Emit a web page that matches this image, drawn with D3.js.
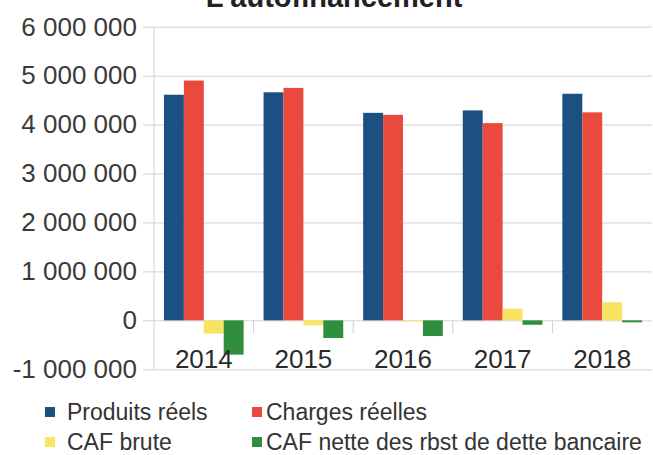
<!DOCTYPE html>
<html>
<head>
<meta charset="utf-8">
<script src="https://cdn.jsdelivr.net/npm/d3@7/dist/d3.min.js"></script>
<style>
  html, body { margin: 0; padding: 0; background: #ffffff; }
  svg { display: block; }
  text { font-family: "Liberation Sans", Arial, sans-serif; }
</style>
</head>
<body>
<svg id="chart" width="653" height="455"></svg>
<script>
// ---- data ----
const title = "L'autofinancement";
const years = ["2014", "2015", "2016", "2017", "2018"];
const seriesNames = ["Produits réels", "Charges réelles", "CAF brute", "CAF nette des rbst de dette bancaire"];
const produitsReels = [4610000, 4660000, 4240000, 4290000, 4630000];
const chargesReelles = [4900000, 4750000, 4200000, 4030000, 4250000];
const cafBrute = [-270000, -100000, -20000, 240000, 370000];
const cafNette = [-700000, -360000, -320000, -90000, -40000];
const yTicks = [-1000000, 0, 1000000, 2000000, 3000000, 4000000, 5000000, 6000000];

// ---- styles ----
const colors = ["#1c4f82", "#ea4a3e", "#f7e463", "#2f8f3d"];
const allSeries = [produitsReels, chargesReelles, cafBrute, cafNette];

const svg = d3.select("#chart");
const W = 653, H = 455;
const plot = { left: 154, right: 652, top: 26.7, bottom: 369.3 };

const y = d3.scaleLinear().domain([-1000000, 6000000]).range([plot.bottom, plot.top]);
const x0 = d3.scaleBand().domain(years).range([plot.left, plot.right]).padding(0);
const x1 = d3.scaleBand().domain(d3.range(seriesNames.length))
  .range([0, x0.bandwidth()]).paddingInner(0).paddingOuter(0.5);

const loc = d3.formatLocale({ decimal: ",", thousands: " ", grouping: [3], currency: ["", " €"], minus: "-" });
const fmt = loc.format(",d");

// title (cropped at the top like the reference)
svg.append("text")
  .attr("x", 334).attr("y", 7)
  .attr("text-anchor", "middle")
  .attr("font-size", 29).attr("font-weight", "bold")
  .attr("fill", "#222")
  .text(title);

// gridlines + y axis
const yAxis = d3.axisLeft(y).tickValues(yTicks).tickFormat(fmt)
  .tickSize(plot.right - plot.left + 11).tickPadding(6);
const gy = svg.append("g").attr("transform", `translate(${plot.right},0)`).call(yAxis);
gy.select(".domain").remove();
gy.selectAll(".tick line").attr("stroke", "#d2d2d2").attr("stroke-width", 1);
gy.selectAll(".tick text")
  .attr("font-size", 26).attr("fill", "#3a3a3a")
  .attr("font-family", "'Liberation Sans', Arial, sans-serif");

// vertical axis line
svg.append("line")
  .attr("x1", plot.left).attr("x2", plot.left)
  .attr("y1", plot.top).attr("y2", plot.bottom)
  .attr("stroke", "#d2d2d2").attr("stroke-width", 1);

// bars
const groups = svg.append("g").selectAll("g")
  .data(years).join("g")
  .attr("transform", d => `translate(${x0(d)},0)`);

groups.selectAll("rect")
  .data((d, i) => allSeries.map((s, k) => ({ k, v: s[i] })))
  .join("rect")
  .attr("x", d => x1(d.k))
  .attr("width", x1.bandwidth())
  .attr("y", d => y(Math.max(0, d.v)))
  .attr("height", d => Math.abs(y(d.v) - y(0)))
  .attr("fill", d => colors[d.k]);

// category separator ticks on the zero line
const seps = years.slice(1).map(d => x0(d));
svg.append("g").selectAll("line")
  .data(seps).join("line")
  .attr("x1", d => d).attr("x2", d => d)
  .attr("y1", y(0)).attr("y2", y(0) + 13)
  .attr("stroke", "#cfcfcf").attr("stroke-width", 1);

// x axis labels (below zero line)
const xAxis = d3.axisBottom(x0).tickSize(0).tickPadding(29);
const gx = svg.append("g").attr("transform", `translate(0,${y(0)})`).call(xAxis);
gx.select(".domain").remove();
gx.selectAll(".tick text")
  .attr("font-size", 26).attr("fill", "#2a2a2a")
  .attr("font-family", "'Liberation Sans', Arial, sans-serif");

// legend
const legendPos = [
  { sx: 45, tx: 67, y: 412 },
  { sx: 252, tx: 266, y: 412 },
  { sx: 45, tx: 67, y: 442 },
  { sx: 252, tx: 266, y: 442 }
];
const lg = svg.append("g").selectAll("g")
  .data(seriesNames).join("g");
lg.append("rect")
  .attr("x", (d, i) => legendPos[i].sx)
  .attr("y", (d, i) => legendPos[i].y - 5)
  .attr("width", 10).attr("height", 10)
  .attr("fill", (d, i) => colors[i]);
lg.append("text")
  .attr("x", (d, i) => legendPos[i].tx)
  .attr("y", (d, i) => legendPos[i].y)
  .attr("dy", "0.35em")
  .attr("font-size", 23).attr("fill", "#333")
  .text(d => d);
</script>
</body>
</html>
